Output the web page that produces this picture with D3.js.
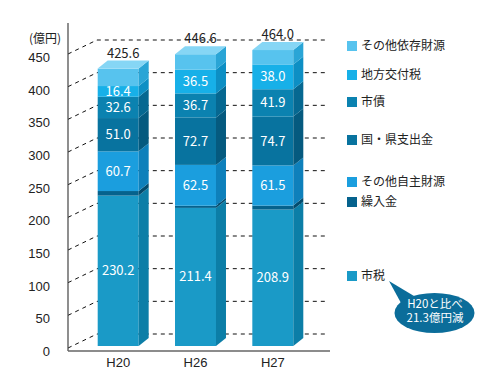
<!DOCTYPE html>
<html>
<head>
<meta charset="utf-8">
<script src="https://cdn.jsdelivr.net/npm/d3@7/dist/d3.min.js"></script>
<style>
  body { margin: 0; background: #fff; }
  svg { display: block; font-family: "Noto Sans CJK JP", "Noto Sans", sans-serif; }
  .tick text { fill: #222; font-size: 13px; }
</style>
</head>
<body>
<div class="chart"></div>
<script>
// Revenue breakdown (億円) by year, stacked bottom -> top
const years = ["H20", "H26", "H27"];
const seriesNames = ["市税", "繰入金", "その他自主財源", "国・県支出金", "市債", "地方交付税", "その他依存財源"];
const shizei = [230.2, 211.4, 208.9];
const kuriire = [7.0, 3.3, 6.0];
const otherOwn = [60.7, 62.5, 61.5];
const kokuKen = [51.0, 72.7, 74.7];
const shisai = [32.6, 36.7, 41.9];
const kofuzei = [16.4, 36.5, 38.0];
const otherDep = [26.7, 23.5, 22.0];
const totals = [425.6, 446.6, 464.0];
const yTicks = [0, 50, 100, 150, 200, 250, 300, 350, 400, 450];
const labelled = ["市税", "その他自主財源", "国・県支出金", "市債", "地方交付税"];
const calloutLines = ["H20と比べ", "21.3億円減"];

const seriesValues = [shizei, kuriire, otherOwn, kokuKen, shisai, kofuzei, otherDep];

// colours: front face / side face
const fronts = ["#1a9ac7", "#05628d", "#1b9ede", "#08739f", "#0b82b0", "#17b0e8", "#57c3ee"];
const sides  = ["#0c7ea7", "#034b6d", "#0e80bb", "#055a7f", "#066891", "#0d8fc4", "#2aa5d6"];
const topFace = "#86d6f5";

// legend layout (pixel rows, top -> bottom follows series reversed)
const legendRows = [46, 75, 102, 140, 182, 202, 276];

const width = 494, height = 386;
const depth = { dx: 10, dy: -8 };
const wall = { dx: 29, dy: -14 };

const svg = d3.select(".chart").append("svg")
    .attr("width", width)
    .attr("height", height);

const y = d3.scaleLinear().domain([0, 450]).range([351, 57]);
const x = d3.scaleBand().domain(years).range([97.7, 293.3]).paddingInner(0.47).paddingOuter(0);
const barY = v => y(v) - 5;

// back wall dashed gridlines
svg.append("g").selectAll("path")
    .data(yTicks)
    .join("path")
    .attr("d", v => `M68,${y(v) - 3}L${68 + wall.dx},${y(v) - 3 + wall.dy}H326`)
    .attr("fill", "none")
    .attr("stroke", "#111")
    .attr("stroke-width", 1)
    .attr("stroke-dasharray", "4,4");

// y axis
const yAxis = svg.append("g")
    .attr("transform", "translate(68,0)")
    .call(d3.axisLeft(y).tickValues(yTicks).tickSize(0).tickPadding(18));
yAxis.select(".domain").remove();
yAxis.selectAll(".tick text").attr("dy", "0.35em");

svg.append("line")
    .attr("x1", 68).attr("x2", 68)
    .attr("y1", 23).attr("y2", 351)
    .attr("stroke", "#444").attr("stroke-width", 1.2);
svg.append("line")
    .attr("x1", 68).attr("x2", 330)
    .attr("y1", 351).attr("y2", 351)
    .attr("stroke", "#666").attr("stroke-width", 1.5);

svg.append("text")
    .attr("x", 45).attr("y", 39)
    .attr("text-anchor", "middle")
    .attr("dy", "0.35em")
    .attr("font-size", 12)
    .attr("fill", "#222")
    .text("(億円)");

// x axis labels
const xAxis = svg.append("g")
    .attr("transform", "translate(0,355)")
    .call(d3.axisBottom(x).tickSize(0).tickPadding(0));
xAxis.select(".domain").remove();
xAxis.selectAll(".tick text").attr("dy", "0.35em").attr("y", 7);

// stacked 3D bars
const table = years.map((yr, i) => {
    const row = { year: yr };
    seriesNames.forEach((s, k) => { row[s] = seriesValues[k][i]; });
    return row;
});
const stacked = d3.stack().keys(seriesNames)(table);

const bars = svg.append("g");
years.forEach((yr, i) => {
    const g = bars.append("g");
    const x0 = x(yr), x1 = x(yr) + x.bandwidth();
    stacked.forEach((layer, k) => {
        const [v0, v1] = layer[i];
        const yt = barY(v1), yb = barY(v0);
        g.append("rect")
            .attr("x", x0).attr("y", yt)
            .attr("width", x1 - x0).attr("height", yb - yt)
            .attr("fill", fronts[k]);
        g.append("path")
            .attr("d", `M${x1},${yb}L${x1 + depth.dx},${yb + depth.dy}L${x1 + depth.dx},${yt + depth.dy}L${x1},${yt}Z`)
            .attr("fill", sides[k]);
        if (labelled.includes(layer.key)) {
            g.append("text")
                .attr("x", (x0 + x1) / 2)
                .attr("y", (yt + yb) / 2)
                .attr("dy", "0.35em")
                .attr("text-anchor", "middle")
                .attr("font-size", 13)
                .attr("fill", "#fff")
                .text(seriesValues[k][i].toFixed(1));
        }
    });
    const top = barY(stacked[stacked.length - 1][i][1]);
    g.append("path")
        .attr("d", `M${x0},${top}L${x0 + depth.dx},${top + depth.dy}L${x1 + depth.dx},${top + depth.dy}L${x1},${top}Z`)
        .attr("fill", topFace);
    g.append("text")
        .attr("x", (x0 + x1 + depth.dx) / 2)
        .attr("y", top + depth.dy - 3)
        .attr("text-anchor", "middle")
        .attr("font-size", 13)
        .attr("fill", "#222")
        .text(totals[i].toFixed(1));
});

// legend
const legendNames = seriesNames.slice().reverse();
const legendColors = fronts.slice().reverse();
const legend = svg.append("g").selectAll("g")
    .data(legendNames)
    .join("g")
    .attr("transform", (d, i) => `translate(347,${legendRows[i]})`);
legend.append("rect")
    .attr("x", 0).attr("y", -5)
    .attr("width", 10).attr("height", 10)
    .attr("fill", (d, i) => legendColors[i]);
legend.append("text")
    .attr("x", 14)
    .attr("dy", "0.35em")
    .attr("font-size", 12)
    .attr("fill", "#222")
    .text(d => d);

// callout bubble
const bubble = svg.append("g");
bubble.append("path")
    .attr("d", "M389,281L401,303L414,296Z")
    .attr("fill", "#0b6d9a");
bubble.append("ellipse")
    .attr("cx", 434.5).attr("cy", 313)
    .attr("rx", 40).attr("ry", 20)
    .attr("fill", "#0b6d9a");
bubble.append("text")
    .attr("text-anchor", "middle")
    .attr("font-size", 11.5)
    .attr("fill", "#fff")
    .selectAll("tspan")
    .data(calloutLines)
    .join("tspan")
    .attr("x", 435)
    .attr("y", (d, i) => 308 + i * 14)
    .text(d => d);
</script>
</body>
</html>
